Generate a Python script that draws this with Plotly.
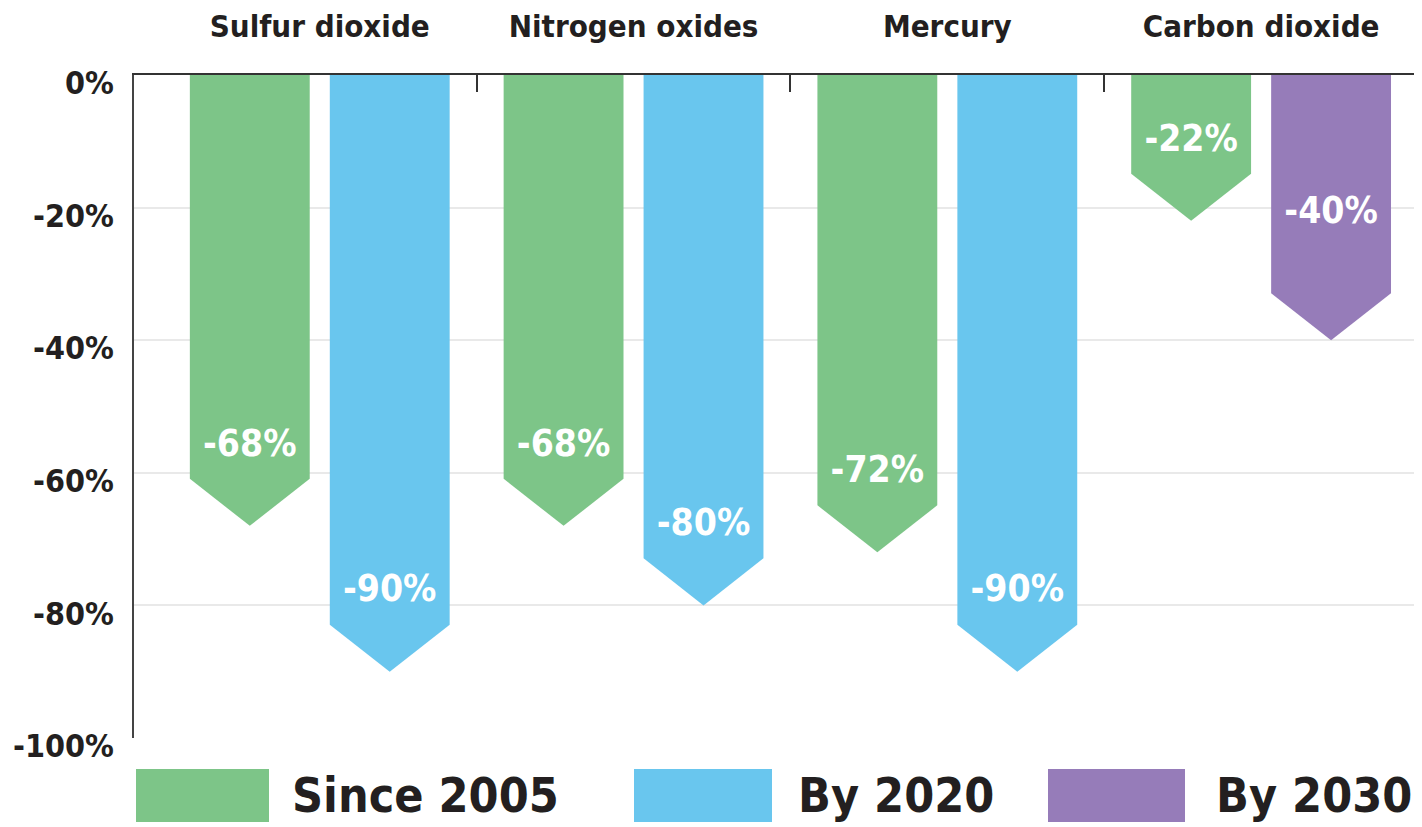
import plotly.graph_objects as go

# ---- data ----
categories = ["Sulfur dioxide", "Nitrogen oxides", "Mercury", "Carbon dioxide"]
since_2005 = [-68, -68, -72, -22]
target_values = [-90, -80, -90, -40]
target_series = ["By 2020", "By 2020", "By 2020", "By 2030"]
legend_names = ["Since 2005", "By 2020", "By 2030"]
y_ticks = [0, -20, -40, -60, -80, -100]
y_tick_text = ["0%", "-20%", "-40%", "-60%", "-80%", "-100%"]

# ---- style ----
COLORS = {"Since 2005": "#7DC588", "By 2020": "#69C6EE", "By 2030": "#967CB9"}
FONT = "DejaVu Sans Condensed, DejaVu Sans"
PAGE_OFF = 8                     # default body margin of the html page
W, H = 1422 - PAGE_OFF, 827 - PAGE_OFF
L, R, T, B = 134 - PAGE_OFF, 4, 75 - PAGE_OFF, 89
OFFSET = 0.223      # half distance between paired bars (category units)
HALF_W = 0.191      # half bar width (category units)
HEAD = 7.1          # arrow head height (value units)
label_offsets = [12, 12, 12, 12]
target_label_offsets = [12, 12, 12, 19]


def fnt(size, color="#231F20"):
    return dict(family=FONT, size=size, color=color, weight="bold")


fig = go.Figure()


def arrow(xc, v, color):
    xl, xr = xc - HALF_W, xc + HALF_W
    yb = v + HEAD
    return go.Scatter(
        x=[xl, xr, xr, xc, xl, xl],
        y=[0, 0, yb, v, yb, 0],
        mode="lines", fill="toself", fillcolor=color,
        line=dict(width=0, color=color), hoverinfo="skip", showlegend=False,
    )


lab_x, lab_y, lab_t = [], [], []
for i, cat in enumerate(categories):
    v1 = since_2005[i]
    fig.add_trace(arrow(i - OFFSET, v1, COLORS["Since 2005"]))
    lab_x.append(i - OFFSET); lab_y.append(v1 + label_offsets[i]); lab_t.append(f"{v1}%")
    v2 = target_values[i]
    fig.add_trace(arrow(i + OFFSET, v2, COLORS[target_series[i]]))
    lab_x.append(i + OFFSET); lab_y.append(v2 + target_label_offsets[i]); lab_t.append(f"{v2}%")

fig.add_trace(go.Scatter(
    x=lab_x, y=lab_y, text=lab_t, mode="text",
    textfont=fnt(37, "white"),
    hoverinfo="skip", showlegend=False,
))

# helper trace on xaxis2 for boundary ticks
fig.add_trace(go.Scatter(x=[0], y=[0], xaxis="x2", mode="markers",
                         marker=dict(opacity=0), hoverinfo="skip", showlegend=False))

pw = W - L - R
ph = H - T - B


def px_x(px):
    return (px - PAGE_OFF - L) / pw


def px_y(py):
    return (H - B - (py - PAGE_OFF)) / ph


# custom legend
legend_geom = [(136, 269, 290), (634, 772, 796), (1048, 1185, 1214)]
for name, (x0, x1, tx) in zip(legend_names, legend_geom):
    fig.add_shape(type="rect", xref="paper", yref="paper",
                  x0=px_x(x0), x1=px_x(x1), y0=px_y(822), y1=px_y(769),
                  fillcolor=COLORS[name], line=dict(width=0), layer="above")
    fig.add_annotation(xref="paper", yref="paper", x=px_x(tx), y=px_y(795),
                       xanchor="left", yanchor="middle", text=name, showarrow=False,
                       font=fnt(48))

fig.update_layout(
    width=W, height=H,
    margin=dict(l=L, r=R, t=T, b=B, pad=0),
    plot_bgcolor="white", paper_bgcolor="white",
    showlegend=False,
    xaxis=dict(
        range=[-0.592, 3.5], side="top", automargin=False,
        tickvals=list(range(len(categories))), ticktext=categories,
        ticks="", showgrid=False, zeroline=False,
        showline=True, linecolor="#333333", linewidth=2,
        tickfont=fnt(31),
        ticklabelstandoff=24,
    ),
    xaxis2=dict(
        overlaying="x", matches="x", side="top", automargin=False,
        range=[-0.592, 3.5],
        tickvals=[0.5, 1.5, 2.5, 3.5], ticks="inside", ticklen=17, tickwidth=2,
        tickcolor="#333333", showticklabels=False, showgrid=False, zeroline=False,
        showline=False,
    ),
    yaxis=dict(
        range=[-100, 0], automargin=False,
        tickvals=y_ticks, ticktext=y_tick_text,
        ticks="", showgrid=True, gridcolor="#E9E9E9", gridwidth=2,
        zeroline=False, showline=True, linecolor="#444444", linewidth=1.5,
        tickfont=fnt(32),
        ticklabelstandoff=12, ticklabelshift=8,
    ),
)

fig.write_html("out.html")
